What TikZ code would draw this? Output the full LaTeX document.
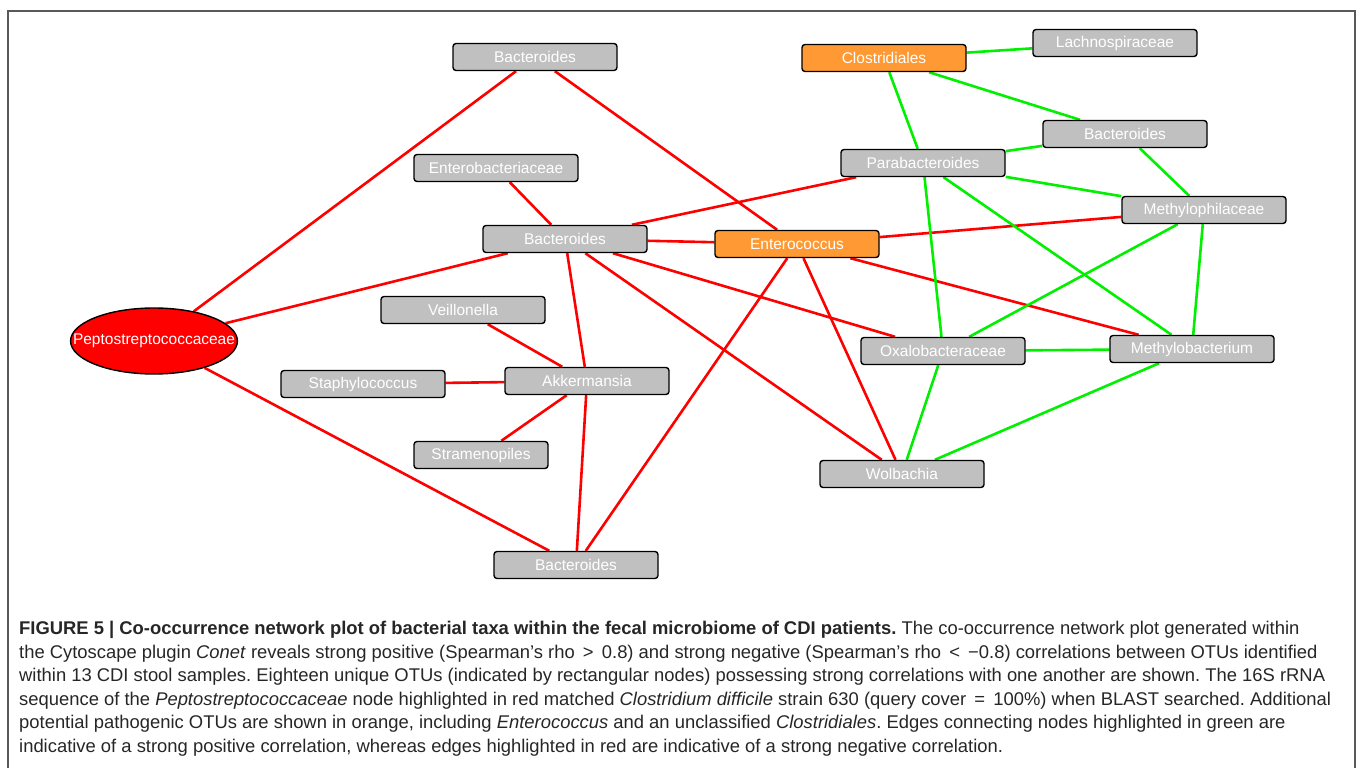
\documentclass[tikz,border=0pt]{standalone}
\usepackage{fontspec}
\setmainfont{Liberation Sans}
\usetikzlibrary{shapes,backgrounds}
\definecolor{otugray}{RGB}{192,192,192}
\definecolor{pathorange}{RGB}{255,153,51}
\definecolor{negred}{RGB}{255,0,0}
\definecolor{posgreen}{RGB}{0,240,0}
\tikzstyle{otu} = [rectangle, draw, line width=1.4pt, fill=otugray, text=white,
    rounded corners=3pt, minimum width=164pt, minimum height=27pt, inner sep=0pt,
    font=\fontsize{15.5}{17}\selectfont]
\tikzstyle{pathogen} = [otu, fill=pathorange]
\tikzstyle{target} = [ellipse, draw, line width=1.4pt, fill=negred, text=white,
    minimum width=165pt, minimum height=66pt, inner xsep=-22pt, inner ysep=0pt,
    font=\fontsize{15.5}{17}\selectfont]
\tikzstyle{negline} = [draw, negred, line width=2.6pt]
\tikzstyle{posline} = [draw, posgreen, line width=2.6pt]

\begin{document}
\frenchspacing
\begin{tikzpicture}[x=1pt, y=-1pt]
		\useasboundingbox (0,0) rectangle (1358,768);
		\draw [black!65, line width=1.5pt] (8,768) -- (8,11) -- (1355,11) -- (1355,768);
		
		% left part
		\node [target] (pep) at (154,341) {Peptostreptococcaceae};
		\node [otu] (btop) at (535,57) {Bacteroides};
		\node [otu] (entb) at (496,168) {Enterobacteriaceae};
		\node [otu] (bmid) at (565,239) {Bacteroides};
		\node [otu] (veil) at (463,310) {Veillonella};
		\node [otu] (akk) at (587,381) {Akkermansia};
		\node [otu] (staph) at (363,384) {Staphylococcus};
		\node [otu, minimum width=134pt] (stram) at (481,455) {Stramenopiles};
		\node [otu] (bbot) at (576,565) {Bacteroides};
		
		% right part
		\node [pathogen] (clos) at (884,58) {Clostridiales};
		\node [otu] (lach) at (1115,43) {Lachnospiraceae};
		\node [otu] (bright) at (1125,134) {Bacteroides};
		\node [otu] (para) at (923,163) {Parabacteroides};
		\node [otu] (mphil) at (1204,210) {Methylophilaceae};
		\node [pathogen] (entc) at (797,244) {Enterococcus};
		\node [otu] (oxal) at (943,351) {Oxalobacteraceae};
		\node [otu] (mbac) at (1192,349) {Methylobacterium};
		\node [otu] (wolb) at (902,474) {Wolbachia};
		
		\begin{pgfonlayer}{background}
		% negative correlations
		\path [negline] (pep) edge (btop);
		\path [negline] (pep) edge (bmid);
		\path [negline] (pep) edge (bbot);
		\path [negline] (btop) edge (entc);
		\path [negline] (entb) edge (bmid);
		\path [negline] (bmid) edge (entc);
		\path [negline] (bmid) edge (para);
		\path [negline] (bmid) edge (akk);
		\path [negline] (bmid) edge (oxal);
		\path [negline] (bmid) edge (wolb);
		\path [negline] (veil) edge (akk);
		\path [negline] (staph) edge (akk);
		\path [negline] (stram) edge (akk);
		\path [negline] (akk) edge (bbot);
		\path [negline] (entc) edge (bbot);
		\path [negline] (entc) edge (mphil);
		\path [negline] (entc) edge (mbac);
		\path [negline] (entc) edge (wolb);
		
		% positive correlations
		\path [posline] (clos) edge (lach);
		\path [posline] (clos) edge (bright);
		\path [posline] (clos) edge (para);
		\path [posline] (para) edge (bright);
		\path [posline] (para) edge (mphil);
		\path [posline] (para) edge (oxal);
		\path [posline] (para) edge (mbac);
		\path [posline] (bright) edge (mphil);
		\path [posline] (mphil) edge (oxal);
		\path [posline] (mphil) edge (mbac);
		\path [posline] (oxal) edge (mbac);
		\path [posline] (oxal) edge (wolb);
		\path [posline] (mbac) edge (wolb);
		\end{pgfonlayer}
		
		\node [anchor=north west, align=left, inner sep=0pt, text=black!85,
		  font=\fontsize{18.4}{23.6}\selectfont] (caption) at (19,621) {%
		  \textbf{FIGURE 5 | Co-occurrence network plot of bacterial taxa within the fecal microbiome of CDI patients.} The co-occurrence network plot generated within\\
		  the Cytoscape plugin \textit{Conet} reveals strong positive (Spearman’s rho \,>\, 0.8) and strong negative (Spearman’s rho \,<\, −0.8) correlations between OTUs identified\\
		  within 13 CDI stool samples. Eighteen unique OTUs (indicated by rectangular nodes) possessing strong correlations with one another are shown. The 16S rRNA\\
		  sequence of the \textit{Peptostreptococcaceae} node highlighted in red matched \textit{Clostridium difficile} strain 630 (query cover \,=\, 100\%) when BLAST searched. Additional\\
		  potential pathogenic OTUs are shown in orange, including \textit{Enterococcus} and an unclassified \textit{Clostridiales}. Edges connecting nodes highlighted in green are\\
		  indicative of a strong positive correlation, whereas edges highlighted in red are indicative of a strong negative correlation.};
	\end{tikzpicture}
\end{document}
